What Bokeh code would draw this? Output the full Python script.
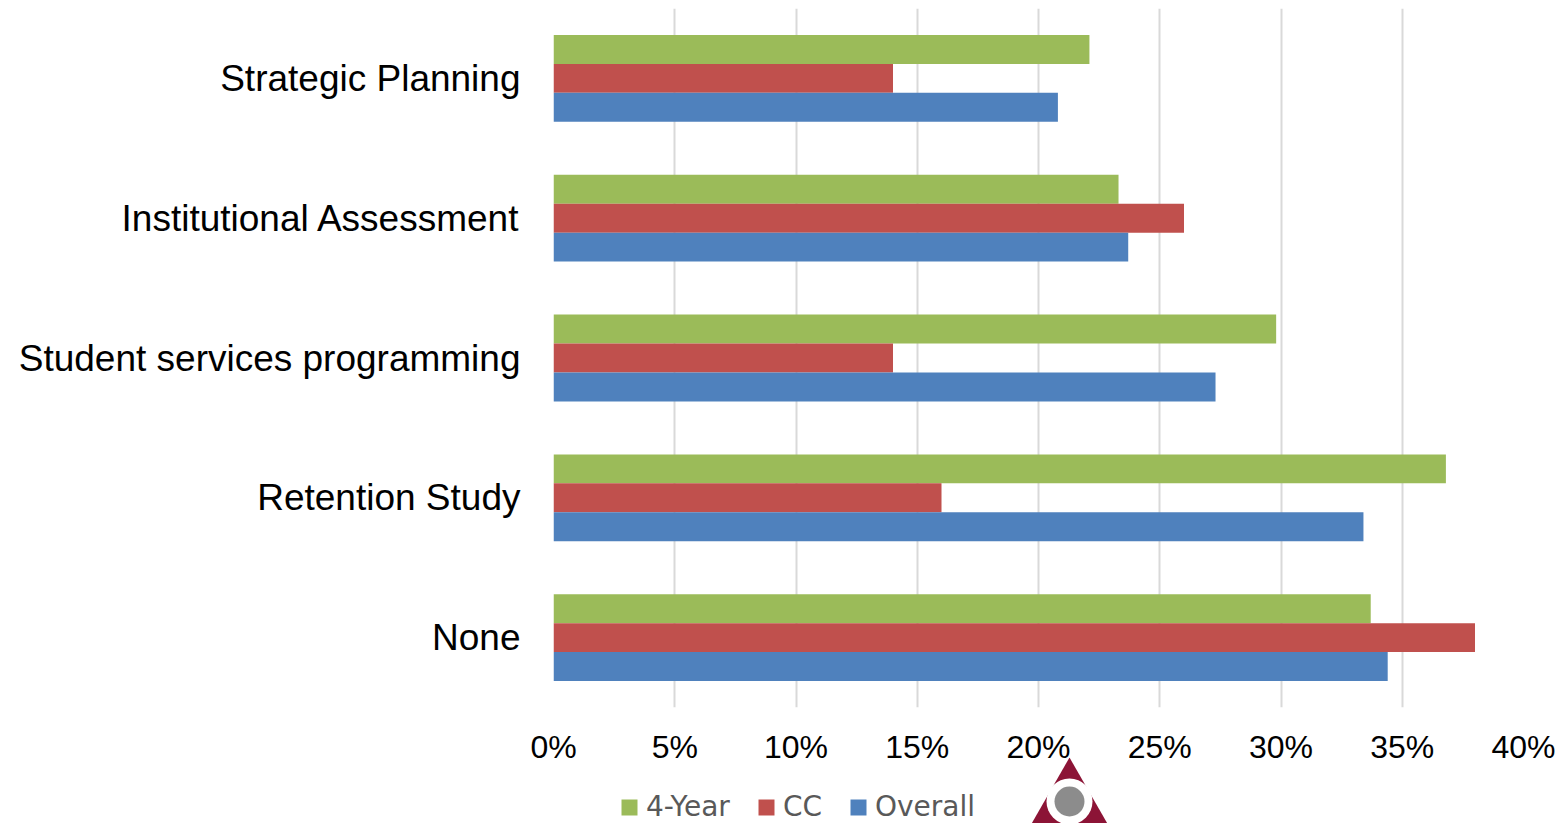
from bokeh.plotting import figure
from bokeh.models import (FactorRange, Range1d, FixedTicker, NumeralTickFormatter,
                          Legend, LegendItem, ColumnDataSource, Column)
from bokeh.transform import dodge
from bokeh.embed import file_html
from bokeh.resources import INLINE

# ---- data ----
categories = ["Strategic Planning", "Institutional Assessment",
              "Student services programming", "Retention Study", "None"]
four_year = [22.1, 23.3, 29.8, 36.8, 33.7]
cc = [14.0, 26.0, 14.0, 16.0, 38.0]
overall = [20.8, 23.7, 27.3, 33.4, 34.4]
series_names = ["4-Year", "CC", "Overall"]
x_ticks_pct = [0, 5, 10, 15, 20, 25, 30, 35, 40]

colors = ["#9BBB59", "#C0504D", "#4F81BD"]

src = ColumnDataSource(dict(
    cat=categories,
    four=[v / 100 for v in four_year],
    cc=[v / 100 for v in cc],
    overall=[v / 100 for v in overall],
))

W = 1558
FRAME_L, FRAME_W = 553, 970
A_BOTTOM = 66          # bottom border of the main chart (holds the x axis)
B_H = 66               # strip holding legend + logo
OVERLAP = 16           # strip is pulled up over the main chart's empty bottom border

# ---------------- main chart ----------------
p = figure(y_range=FactorRange(factors=categories[::-1], range_padding=0),
           x_range=Range1d(0, x_ticks_pct[-1] / 100),
           frame_width=FRAME_W, frame_height=699,
           min_border_left=FRAME_L, min_border_top=8, min_border_right=35,
           min_border_bottom=A_BOTTOM,
           output_backend="svg", toolbar_location=None)

bh = 0.207
fields = ["four", "cc", "overall"]
offsets = [bh, 0.0, -bh]
for f, off, c in zip(fields, offsets, colors):
    p.hbar(y=dodge("cat", off, range=p.y_range), right=f, left=0, height=bh,
           fill_color=c, line_color=None, source=src)

p.xaxis.ticker = FixedTicker(ticks=[t / 100 for t in x_ticks_pct])
p.xaxis.formatter = NumeralTickFormatter(format="0%")
for ax in (p.xaxis, p.yaxis):
    ax.axis_line_color = None
    ax.major_tick_line_color = None
    ax.minor_tick_line_color = None
    ax.major_tick_out = 0
    ax.major_tick_in = 0
    ax.major_label_text_font = "Liberation Sans"
    ax.major_label_text_color = "#000000"
p.xaxis.major_label_text_font_size = "32px"
p.xaxis.major_label_standoff = 21
p.yaxis.major_label_text_font_size = "37px"
p.yaxis.major_label_standoff = 33

p.xgrid.grid_line_color = "#D9D9D9"
p.xgrid.grid_line_width = 2
p.ygrid.grid_line_color = None
p.outline_line_color = None
p.background_fill_color = "white"
p.border_fill_color = "white"

# ---------------- legend + logo strip (page-pixel units; frame is aligned with the chart's) ----------------
b = figure(width=W, height=B_H, x_range=Range1d(FRAME_L, FRAME_L + FRAME_W),
           y_range=Range1d(B_H, 0),
           min_border=0, x_axis_type=None, y_axis_type=None,
           output_backend="svg", toolbar_location=None)
b.background_fill_color = None
b.border_fill_color = None
b.outline_line_color = None

# hidden renderers that only carry the legend swatches
leg_renderers = []
for f, c in zip(fields, colors):
    r = b.hbar(y=0, right=f, left=0, height=0, fill_color=c, line_color=None,
               source=src, visible=False)
    leg_renderers.append(r)

legend = Legend(items=[LegendItem(label=n, renderers=[r]) for n, r in zip(series_names, leg_renderers)],
                orientation="horizontal", location=(66, 0),
                glyph_width=20, glyph_height=20, label_standoff=7, spacing=26,
                padding=0, margin=0, border_line_color=None, background_fill_alpha=0,
                inactive_fill_alpha=0,
                label_text_font="DejaVu Sans", label_text_font_size="28px",
                label_text_color="#595959")
b.add_layout(legend, "center")

# decorative logo
b.patch(x=[1069, 1108, 1030], y=[0, 68, 68], fill_color="#8C1436", line_color=None)
b.scatter(x=[1069], y=[44], size=46, marker="circle", fill_color="white", line_color=None)
b.scatter(x=[1069], y=[44], size=30, marker="circle", fill_color="#8C8C8C", line_color=None)
b.margin = (-OVERLAP, 0, 0, 0)

layout = Column(children=[p, b], spacing=0)

open("out.html", "w").write(file_html(layout, INLINE))
